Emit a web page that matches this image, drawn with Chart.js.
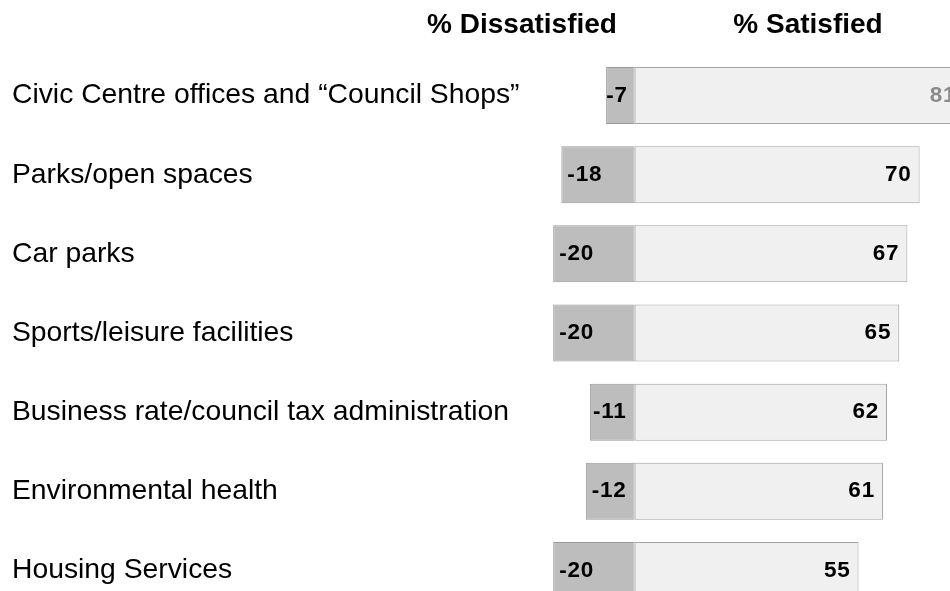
<!DOCTYPE html>
<html>
<head>
<meta charset="utf-8">
<title>Satisfaction with council services</title>
<script src="https://cdn.jsdelivr.net/npm/chart.js@4.4.0/dist/chart.umd.min.js"></script>
<style>
    html, body { margin: 0; padding: 0; overflow: hidden; background: #ffffff; }
    canvas { display: block; }
</style>
</head>
<body>
<canvas id="serviceChart" width="1002" height="620"></canvas>
<script>
// Service satisfaction data
const services = [
    'Civic Centre offices and \u201cCouncil Shops\u201d',
    'Parks/open spaces',
    'Car parks',
    'Sports/leisure facilities',
    'Business rate/council tax administration',
    'Environmental health',
    'Housing Services'
];
const dissatisfied = [-7, -18, -20, -20, -11, -12, -20];
const satisfied = [81, 70, 67, 65, 62, 61, 55];
const headings = ['% Dissatisfied', '% Satisfied'];

const FONT = "'Liberation Sans', Arial, sans-serif";

// Column headings above the bars
const headingPlugin = {
    id: 'headings',
    afterDraw(chart) {
        const ctx = chart.ctx;
        ctx.save();
        ctx.font = 'bold 28px ' + FONT;
        ctx.fillStyle = '#000000';
        ctx.textAlign = 'center';
        ctx.textBaseline = 'middle';
        ctx.fillText(headings[0], 522, 25);
        ctx.fillText(headings[1], 808, 25);
        ctx.restore();
    }
};

// Service names, left aligned beside each row
const categoryPlugin = {
    id: 'categoryNames',
    afterDraw(chart) {
        const ctx = chart.ctx;
        const yScale = chart.scales.y;
        ctx.save();
        ctx.font = '28.3px ' + FONT;
        ctx.fillStyle = '#000000';
        ctx.textAlign = 'left';
        ctx.textBaseline = 'middle';
        services.forEach((name, i) => {
            ctx.fillText(name, 12, yScale.getPixelForValue(i));
        });
        ctx.restore();
    }
};

// Value labels inside the bars
const valueLabelPlugin = {
    id: 'valueLabels',
    afterDatasetsDraw(chart) {
        const ctx = chart.ctx;
        const zero = chart.scales.x.getPixelForValue(0);
        ctx.save();
        ctx.font = 'bold 22.5px ' + FONT;
        ctx.letterSpacing = '0.8px';
        ctx.textBaseline = 'middle';

        chart.getDatasetMeta(0).data.forEach((bar, i) => {
            const text = String(dissatisfied[i]);
            const w = ctx.measureText(text).width;
            let x = bar.x + 6;
            if (x + w > zero - 8) x = Math.max(bar.x, zero - 8 - w);
            ctx.fillStyle = '#000000';
            ctx.textAlign = 'left';
            ctx.fillText(text, x, bar.y);
        });

        chart.getDatasetMeta(1).data.forEach((bar, i) => {
            // the top row's label runs past the edge and is shown faded
            ctx.fillStyle = i === 0 ? '#8a8a8a' : '#000000';
            ctx.textAlign = 'right';
            ctx.fillText(String(satisfied[i]), bar.x - 8, bar.y);
        });
        ctx.restore();
    }
};

const ctx = document.getElementById('serviceChart').getContext('2d');

new Chart(ctx, {
    type: 'bar',
    data: {
        labels: services,
        datasets: [
            {
                label: headings[0],
                data: dissatisfied,
                backgroundColor: '#bdbdbd',
                borderColor: '#999999',
                borderWidth: 1,
                borderSkipped: false,
                barPercentage: 0.72,
                categoryPercentage: 1
            },
            {
                label: headings[1],
                data: satisfied,
                backgroundColor: '#f0f0f0',
                borderColor: '#a3a3a3',
                borderWidth: 1,
                borderSkipped: false,
                barPercentage: 0.72,
                categoryPercentage: 1
            }
        ]
    },
    options: {
        indexAxis: 'y',
        responsive: false,
        animation: false,
        layout: {
            padding: { left: 24, right: 1, top: 56, bottom: 10 }
        },
        scales: {
            x: {
                stacked: true,
                min: -150,
                max: 90,
                display: false
            },
            y: {
                stacked: true,
                display: false
            }
        },
        plugins: {
            legend: { display: false },
            tooltip: { enabled: false }
        }
    },
    plugins: [headingPlugin, categoryPlugin, valueLabelPlugin]
});
</script>
</body>
</html>
